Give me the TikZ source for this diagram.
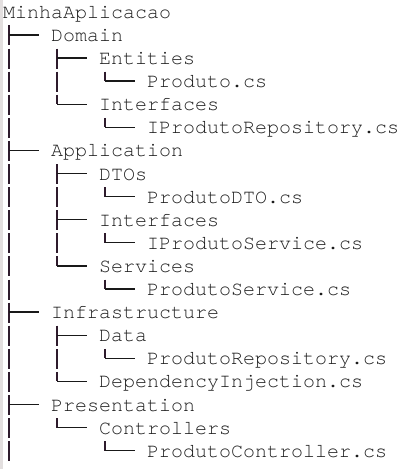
\documentclass[tikz,border=0pt]{standalone}
\usepackage{fontspec}
\setmonofont{texgyrecursor-regular.otf}
\usepackage{xcolor}
\usepackage{tikz}
\usetikzlibrary{positioning, calc}

\definecolor{entrytext}{HTML}{1C1C1C}
\definecolor{treeline}{HTML}{2E1B2C}
\definecolor{leftbar}{HTML}{E3DFDF}

\begin{document}
\begin{tikzpicture}[x=1pt, y=-1pt,
        every node/.style={anchor=base west, inner sep=0pt, text=entrytext,
          font=\ttfamily\fontsize{20}{23}\selectfont},
        vline/.style={draw=treeline, line width=1.5pt, dash pattern=on 20pt off 3.1pt},
        hline/.style={draw=black!90, line width=1.3pt}]
        \useasboundingbox (0,0) rectangle (415,469);
        \fill[leftbar] (0,0) rectangle (2.6,469);

        \node (root) at (3,18.3) {MinhaAplicacao};
        \node (domain) at (51,41.4) {Domain};
        \node (entities) at (99,64.5) {Entities};
        \node (produto) at (147,87.6) {Produto.cs};
        \node (dinterfaces) at (99,110.7) {Interfaces};
        \node (irepo) at (147,133.8) {IProdutoRepository.cs};
        \node (application) at (51,156.9) {Application};
        \node (dtos) at (99,180.0) {DTOs};
        \node (dto) at (147,203.1) {ProdutoDTO.cs};
        \node (ainterfaces) at (99,226.2) {Interfaces};
        \node (iservice) at (147,249.3) {IProdutoService.cs};
        \node (services) at (99,272.4) {Services};
        \node (service) at (147,295.5) {ProdutoService.cs};
        \node (infra) at (51,318.6) {Infrastructure};
        \node (data) at (99,341.7) {Data};
        \node (repo) at (147,364.8) {ProdutoRepository.cs};
        \node (di) at (99,387.9) {DependencyInjection.cs};
        \node (presentation) at (51,411.0) {Presentation};
        \node (controllers) at (99,434.1) {Controllers};
        \node (controller) at (147,457.2) {ProdutoController.cs};
        \coordinate (trunkend) at (9,461.2);

        % vertical runs, parent -> last child
        \draw[vline] ([xshift=6pt,yshift=-7.1pt]root.base west) -- (trunkend);
        \foreach \p/\c in {domain/dinterfaces, entities/produto, dinterfaces/irepo,
            application/services, dtos/dto, ainterfaces/iservice, services/service,
            infra/di, data/repo, presentation/controllers, controllers/controller}
          \draw[vline] ([xshift=6pt,yshift=-7.1pt]\p.base west) -- ([xshift=-42pt,yshift=6.5pt]\c.base west);

        % branches
        \foreach \c in {domain, entities, produto, dinterfaces, irepo, application, dtos,
            dto, ainterfaces, iservice, services, service, infra, data, repo, di,
            presentation, controllers, controller}
          \draw[hline] ([xshift=-42pt,yshift=6.5pt]\c.base west) -- ([xshift=-12pt,yshift=6.5pt]\c.base west);
      \end{tikzpicture}
\end{document}
